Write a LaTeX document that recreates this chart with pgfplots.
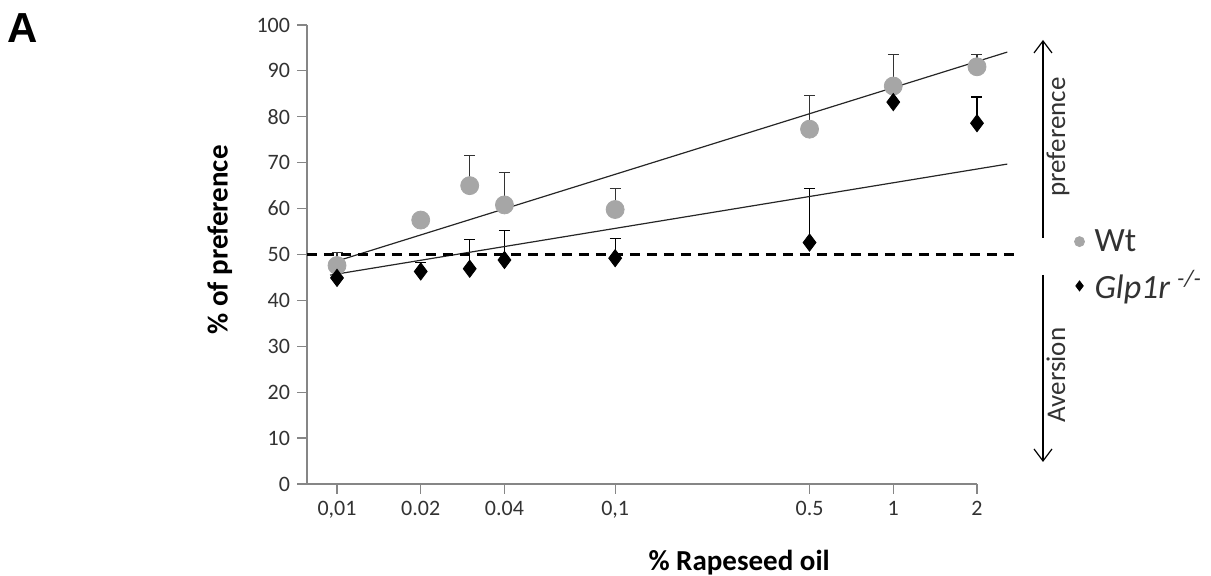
\documentclass[border=0pt]{standalone}
\usepackage{pgfplots}
\pgfplotsset{compat=1.18}
\usepackage{fontspec}
\setmainfont{Carlito}
\newfontfamily\arialfont{Liberation Sans}
\usetikzlibrary{arrows.meta}
\definecolor{wtgray}{RGB}{166,166,166}
\definecolor{axgray}{RGB}{134,134,134}
\definecolor{txt}{RGB}{50,50,50}

\begin{document}
\begin{tikzpicture}
% 1 px of the reference = 0.5pt, origin = lower left corner of the axis
\path[use as bounding box] (-153.5pt,-46pt) rectangle (452pt,242pt);
\begin{axis}[
    at={(0,0)}, anchor=south west,
    scale only axis, width=335pt, height=229.5pt,
    xmode=log, xmin=0.0078, xmax=2, ymin=0, ymax=100,
    axis x line=bottom, axis y line=left,
    axis line style={axgray, line width=0.6pt, -},
    tick style={axgray, line width=0.6pt},
    tick align=outside, major tick length=5pt,
    xtick={0.01,0.02,0.04,0.1,0.5,1,2},
    xticklabels={{0,01},0.02,0.04,{0,1},0.5,1,2},
    minor xtick={},
    ytick={0,10,...,100},
    /pgf/number format/assume math mode=true,
    tick label style={font=\fontsize{11}{13}\selectfont, text=txt},
    xlabel={\textbf{\% Rapeseed oil}},
    ylabel={\textbf{\% of preference}},
    every axis x label/.style={at={(axis description cs:0.645,-0.172)}, anchor=center,
        font=\fontsize{14.5}{17}\selectfont},
    every axis y label/.style={at={(axis description cs:-0.13,0.532)}, anchor=center, rotate=90,
        font=\fontsize{14.5}{17}\selectfont},
    clip=false,
    legend style={draw=none, fill=none, at={(axis description cs:1.136,0.476)}, anchor=west,
        font=\fontsize{17}{19}\selectfont, text=txt, row sep=4pt,
        /tikz/every odd column/.append style={column sep=3pt}},
    legend cell align=left,
    legend image code/.code={\draw[#1, mark size=2.5pt] plot coordinates {(0cm,0cm)};},
]

% Wt
\addplot[only marks, mark=*, mark size=4.5pt, mark options={draw=wtgray, fill=wtgray},
    error bars/.cd, y dir=plus, y explicit,
    error bar style={black!80, line width=0.6pt},
    error mark options={rotate=90, mark size=2.75pt, black!80, line width=0.6pt}]
coordinates {
(0.01,47.6) +- (0,2.9)
(0.02,57.5) +- (0,0)
(0.03,65.0) +- (0,6.5)
(0.04,60.8) +- (0,7.0)
(0.1,59.8) +- (0,4.5)
(0.5,77.3) +- (0,7.4)
(1,86.7) +- (0,6.8)
(2,90.9) +- (0,2.6)
};
\addlegendentry{Wt}

% Glp1r -/-
\addplot[only marks, mark=diamond*, mark size=4.3pt, mark options={draw=black, fill=black},
    error bars/.cd, y dir=plus, y explicit,
    error bar style={black, line width=0.6pt},
    error mark options={rotate=90, mark size=2.75pt, black, line width=0.6pt}]
coordinates {
(0.01,44.9) +- (0,0)
(0.02,46.3) +- (0,1.9)
(0.03,46.9) +- (0,6.3)
(0.04,48.8) +- (0,6.5)
(0.1,49.2) +- (0,4.2)
(0.5,52.6) +- (0,11.7)
(1,83.2) +- (0,0)
(2,78.6) +- (0,5.7)
};
\addlegendentry{\textit{Glp1r}\textsuperscript{\;\itshape -/-}}

% trend lines
\addplot[forget plot, black!85, line width=0.6pt] coordinates {(0.00944,48.1) (2.57,94.1)};
\addplot[forget plot, black!85, line width=0.6pt] coordinates {(0.00944,45.5) (2.57,69.7)};

% 50 % level
\addplot[forget plot, black, line width=1.2pt, dash pattern=on 5pt off 3.5pt]
    coordinates {(0.0078,50) (2.87,50)};
\end{axis}

\draw[-{Straight Barb[length=6pt,width=9pt]}, line width=0.6pt] (368pt,123pt) -- (368pt,222pt);
\draw[-{Straight Barb[length=6pt,width=9pt]}, line width=0.6pt] (368pt,104.5pt) -- (368pt,11pt);
\node[rotate=90, font=\fontsize{13.5}{15}\selectfont, text=txt] at (375.5pt,173.5pt) {preference};
\node[rotate=90, font=\fontsize{13.5}{15}\selectfont, text=txt] at (374.5pt,54.5pt) {Aversion};
\node[font=\arialfont\bfseries\fontsize{21}{24}\selectfont] at (-142pt,228pt) {A};
\end{tikzpicture}
\end{document}
